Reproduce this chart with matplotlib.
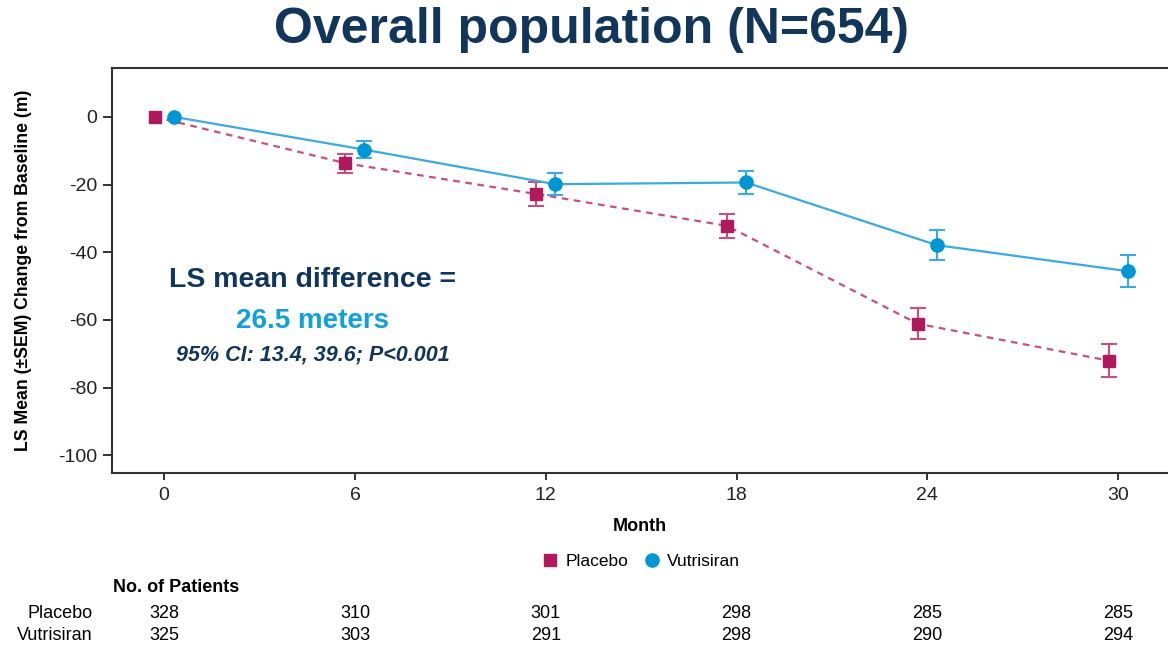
import numpy as np
import matplotlib
matplotlib.use("Agg")
import matplotlib.pyplot as plt
from matplotlib.lines import Line2D
from matplotlib.transforms import blended_transform_factory

plt.rcParams['font.family'] = ['Liberation Sans', 'DejaVu Sans']
plt.rcParams['axes.unicode_minus'] = False

# data
months = [0, 6, 12, 18, 24, 30]
placebo_mean = [0.0, -13.7, -22.8, -32.2, -61.1, -72.0]
placebo_sem = [0.0, 2.8, 3.4, 3.6, 4.6, 4.8]
vutrisiran_mean = [0.0, -9.7, -19.9, -19.4, -37.9, -45.6]
vutrisiran_sem = [0.0, 2.6, 3.2, 3.4, 4.4, 4.7]
n_placebo = [328, 310, 301, 298, 285, 285]
n_vutrisiran = [325, 303, 291, 298, 290, 294]
y_ticks = [0, -20, -40, -60, -80, -100]

NAVY = '#12355b'
PLA_MK = '#b0195e'
PLA_LN = '#c8507f'
VUT_MK = '#0096d6'
VUT_LN = '#3aaae2'
dodge = 0.3

fig = plt.figure(figsize=(11.68, 6.48), dpi=100)
ax = fig.add_axes([0.0959, 0.270, 0.9041, 0.625])

x = np.array(months, dtype=float)
xp = x - dodge
xv = x + dodge

# placebo
ax.errorbar(xp[1:], placebo_mean[1:], yerr=placebo_sem[1:], fmt='none',
            ecolor=PLA_LN, elinewidth=1.5, capsize=6, capthick=1.5, zorder=2)
ax.plot(xp, placebo_mean, color=PLA_LN, lw=1.6, ls=(0, (3, 2.5)), zorder=2)
ax.plot(xp, placebo_mean, ls='none', marker='s', ms=8.5, color=PLA_MK,
        mec=PLA_MK, zorder=3)

# vutrisiran
ax.errorbar(xv[1:], vutrisiran_mean[1:], yerr=vutrisiran_sem[1:], fmt='none',
            ecolor=VUT_LN, elinewidth=1.5, capsize=6, capthick=1.5, zorder=4)
ax.plot(xv, vutrisiran_mean, color=VUT_LN, lw=1.6, zorder=4)
ax.plot(xv, vutrisiran_mean, ls='none', marker='o', ms=9.5, color=VUT_MK,
        mec=VUT_MK, zorder=5)

ax.set_xlim(-1.64, 31.57)
ax.set_ylim(-105.2, 14.4)
ax.set_xticks(months)
ax.set_yticks(y_ticks)
ax.tick_params(axis='y', direction='out', length=6.5, width=1.3, pad=4,
               labelsize=14, colors='#222222')
ax.tick_params(axis='x', direction='out', length=5, width=1.3, pad=5,
               labelsize=14, colors='#222222')
for s in ['left', 'bottom', 'top']:
    ax.spines[s].set_linewidth(1.5)
    ax.spines[s].set_color('#333333')
ax.spines['right'].set_visible(False)

ax.set_xlabel('Month', fontsize=13, fontweight='bold', labelpad=10)
ax.set_ylabel('LS Mean (\u00b1SEM) Change from Baseline (m)', fontsize=12.7,
              fontweight='bold')
ax.yaxis.set_label_coords(-0.076, 0.5)

# annotation
ax.text(4.68, -48.3, 'LS mean difference =', fontsize=20.5, fontweight='bold',
        color=NAVY, ha='center', va='center')
ax.text(4.68, -60.4, '26.5 meters', fontsize=20, fontweight='bold',
        color='#10a0dc', ha='center', va='center')
ax.text(4.68, -70.2, '95% CI: 13.4, 39.6; P<0.001', fontsize=15.5,
        fontweight='bold', fontstyle='italic', color=NAVY,
        ha='center', va='center')

fig.text(0.506, 0.954, 'Overall population (N=654)', fontsize=36,
         fontweight='bold', color=NAVY, ha='center', va='center')

# legend
handles = [Line2D([], [], ls='none', marker='s', ms=8.5, color=PLA_MK),
           Line2D([], [], ls='none', marker='o', ms=9.5, color=VUT_MK)]
fig.legend(handles, ['Placebo', 'Vutrisiran'], loc='center',
           bbox_to_anchor=(0.5495, 1 - 561 / 648), ncol=2, frameon=False,
           fontsize=12.5, handlelength=0.8, handletextpad=0.45,
           columnspacing=1.0)

# number at risk table
tr = blended_transform_factory(ax.transData, fig.transFigure)
fig.text(113 / 1168, 1 - 588 / 648, 'No. of Patients', fontsize=13,
         fontweight='bold', ha='left', va='center')
fig.text(93 / 1168, 1 - 613 / 648, 'Placebo', fontsize=13, ha='right',
         va='center')
fig.text(93 / 1168, 1 - 636 / 648, 'Vutrisiran', fontsize=13, ha='right',
         va='center')
for m, a, b in zip(months, n_placebo, n_vutrisiran):
    ax.text(m, 1 - 613 / 648, str(a), transform=tr, fontsize=13,
            ha='center', va='center', clip_on=False)
    ax.text(m, 1 - 636 / 648, str(b), transform=tr, fontsize=13,
            ha='center', va='center', clip_on=False)

fig.savefig('out.png', dpi=100)
